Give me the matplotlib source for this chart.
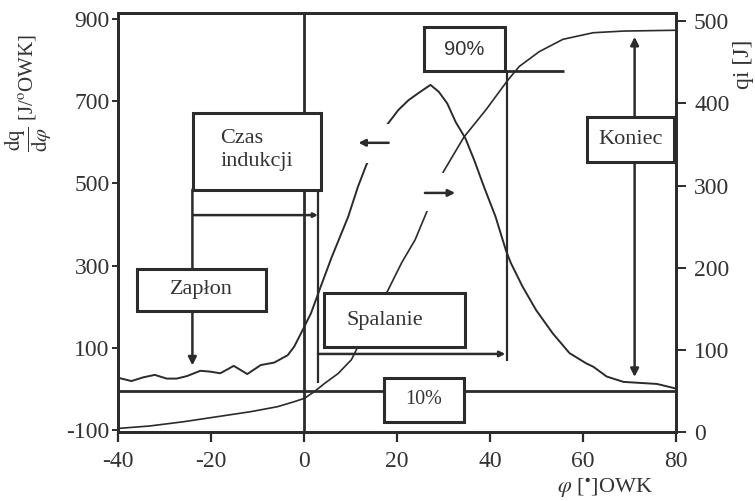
import numpy as np
import matplotlib.pyplot as plt
from matplotlib.patches import Rectangle

plt.rcParams['font.family'] = ['Liberation Serif', 'DejaVu Serif']
plt.rcParams['mathtext.fontset'] = 'stix'
plt.rcParams['axes.unicode_minus'] = False

# heat release rate dq/dphi [J/deg] (left axis)
phi_dq = [-39.6, -37.1, -34.6, -32.1, -29.5, -27.4, -25.2, -22.3, -20.2, -18.0,
          -15.1, -12.2, -9.3, -6.4, -3.5, -2.1, -0.3, 1.5, 3.6, 5.9, 9.5, 11.6,
          13.4, 17.8, 20.3, 22.5, 24.6, 27.2, 29.0, 30.8, 32.6, 34.7, 36.6, 38.7,
          41.2, 43.4, 44.5, 47.0, 49.9, 53.5, 57.1, 60.7, 62.2, 65.1, 68.7, 73.0,
          75.9, 79.9]
dq = [26, 19, 28, 34, 25, 25, 31, 44, 42, 38, 56, 36, 58, 64, 82, 103, 143, 184,
      249, 319, 419, 492, 545, 642, 679, 703, 720, 740, 723, 695, 650, 610, 557,
      492, 419, 338, 306, 249, 192, 135, 87, 62, 54, 30, 17, 14, 12, 1]

# cumulative heat qi [J] (right axis)
phi_qi = [-39.6, -33.2, -25.9, -18.7, -11.5, -5.7, -2.1, 0.1, 2.2, 4.4, 7.3, 10.2,
          11.6, 18.1, 21.0, 23.9, 26.4, 30.0, 34.4, 39.1, 43.8, 46.3, 50.6, 55.7,
          62.2, 68.7, 80.0]
qi = [4.5, 7.3, 12.5, 18.6, 24.7, 30.8, 36.9, 41, 49, 59, 71, 88, 104, 173, 206,
      234, 268, 317, 359, 392, 428, 445, 463, 478, 486, 488, 489]

x_ticks = [-40, -20, 0, 20, 40, 60, 80]
left_ticks = [-100, 100, 300, 500, 700, 900]
right_ticks = [0, 100, 200, 300, 400, 500]

INK = '#2b2b2b'
TXT = '#333333'

fig = plt.figure(figsize=(7.55, 5.01), dpi=100)
ax = fig.add_axes([118 / 755, 1 - 432 / 501, (676 - 118) / 755, (432 - 13) / 501])
ax2 = ax.twinx()

ax.plot(phi_dq, dq, color=INK, lw=1.4)
ax2.plot(phi_qi, qi, color=INK, lw=1.2, zorder=2)

ax.set_xlim(-40, 80)
ax.set_ylim(-105, 915)
ax2.set_ylim(0, 510)
ax.set_xticks(x_ticks)
ax.set_yticks(left_ticks)
ax2.set_yticks(right_ticks)

for a in (ax, ax2):
    for s in a.spines.values():
        s.set_linewidth(2.0)
        s.set_color(INK)
ax.tick_params(axis='x', direction='out', length=7, width=1.6, pad=7,
               labelsize=17, colors=INK, labelcolor=TXT)
ax.tick_params(axis='y', direction='out', length=4, width=1.4, pad=2,
               labelsize=17, colors=INK, labelcolor=TXT)
ax2.tick_params(axis='y', direction='out', length=7, width=1.4, pad=6,
                labelsize=17, colors=INK, labelcolor=TXT)

# axis labels
fig.text(28 / 755, 1 - 93 / 501,
         r'$\dfrac{\mathrm{dq}}{\mathrm{d}\varphi}$ [J/$^{\mathrm{o}}$OWK]',
         rotation=90, ha='center', va='center', fontsize=15, color=TXT)
fig.text(744 / 755, 1 - 64 / 501, 'qi [J]', rotation=90, ha='center', va='center',
         fontsize=17, color=TXT)
fig.text(605 / 755, 1 - 488 / 501, r'$\varphi$ [$^{\bullet}$]OWK', ha='center', va='center',
         fontsize=16, color=TXT)

LW = 1.8


def box(x0, x1, y0, y1, lw=2.2):
    ax2.add_patch(Rectangle((x0, y0), x1 - x0, y1 - y0, facecolor='white',
                            edgecolor=INK, lw=lw, zorder=4))


def line(xs, ys, lw=LW):
    ax2.plot(xs, ys, color=INK, lw=lw, zorder=3, solid_capstyle='butt')


def arrow(tail, tip, style='-|>', ms=12):
    ax2.annotate('', xy=tip, xytext=tail, zorder=3,
                 arrowprops=dict(arrowstyle=style, color=INK, lw=LW,
                                 mutation_scale=ms, shrinkA=0, shrinkB=0))


# reference lines
ax2.axvline(0, color=INK, lw=2.0, zorder=3)
ax2.axhline(50, color=INK, lw=2.0, zorder=3)

# 10 % box
box(17.3, 34.5, 12, 66)
ax2.text(25.8, 39, '10%', ha='center', va='center', fontsize=14.5, color=TXT, zorder=5)

# 90 % box and lines
box(25.8, 43.3, 440, 493)
ax2.text(34.5, 466, '90%', ha='center', va='center', fontsize=14.5, color=TXT,
         family='Liberation Sans', zorder=5)
line([43.3, 56.0], [440, 440], lw=2.0)
line([43.7, 43.7], [440, 86], lw=1.6)

# combustion (Spalanie)
line([3.0, 3.0], [295, 60], lw=1.6)
arrow((3.0, 95), (43.3, 95), ms=8)
box(4.3, 34.7, 104, 169)
ax2.text(17.3, 136, 'Spalanie', ha='center', va='center', fontsize=16, color=TXT, zorder=5)

# ignition delay (Czas indukcji)
arrow((-23.8, 264), (3.0, 264), ms=6)
arrow((-24.0, 295), (-24.0, 81), ms=12)
box(-23.8, 3.7, 295, 388)
ax2.text(-18.0, 343, 'Czas\nindukcji', ha='left', va='center', fontsize=16,
         linespacing=1.25, color=TXT, zorder=5)

# ignition (Zapłon)
box(-36.0, -8.2, 147, 198)
ax2.text(-22.1, 173, 'Zapłon', ha='center', va='center', fontsize=16, color=TXT, zorder=5)

# end (Koniec)
arrow((71.1, 67), (71.1, 481), style='<|-|>', ms=12)
box(60.9, 79.5, 329, 383)
ax2.text(70.2, 356, 'Koniec', ha='center', va='center', fontsize=16, color=TXT, zorder=5)

# curve direction arrows, with blank space behind them
ax2.add_patch(Rectangle((12.4, 327), 7.1, 48, facecolor='white', edgecolor='none', zorder=2.5))
ax2.add_patch(Rectangle((24.9, 269), 8.7, 46, facecolor='white', edgecolor='none', zorder=2.5))
arrow((18.2, 352), (11.7, 352), ms=10)
arrow((26.0, 291), (32.5, 291), ms=10)

fig.savefig('out.png', dpi=100)
